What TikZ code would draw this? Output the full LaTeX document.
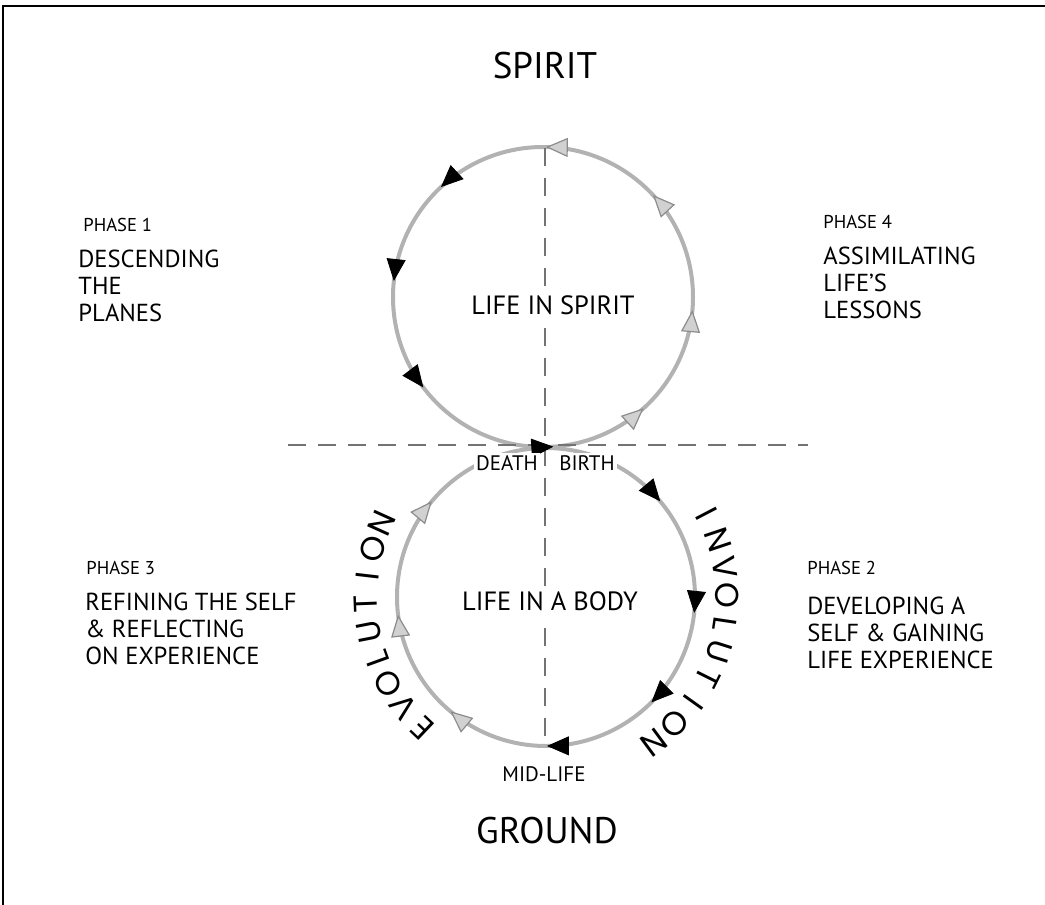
\documentclass[tikz,border=0pt]{standalone}
\usepackage{fontspec}
\setmainfont{PT Sans}
\newfontfamily\arcfont{Poppins}
\usetikzlibrary{arrows.meta,decorations.markings}

\tikzset{
    blacktip/.tip={Triangle[length=11pt,width=9.5pt,color=black,fill=black]},
    graytip/.tip={Triangle[length=11pt,width=9.5pt,line width=0.6pt,color=black!45,fill=black!18]}
}

\begin{document}
\begin{tikzpicture}[
        x=0.5pt, y=0.5pt,
        % Kreislinie
        ring/.style={draw=black!30, line width=2pt},
        % Gestrichelte Achsen
        axis/.style={draw=black!55, line width=1pt, dash pattern=on 9pt off 6pt},
        % Oben / unten
        pole/.style={font=\fontsize{18.5}{22}\selectfont, anchor=base},
        % Text im Kreis
        inside/.style={font=\fontsize{13.2}{16}\selectfont, fill=white, inner sep=2.5pt},
        % Punkte am Kreis
        point/.style={font=\fontsize{10.5}{12}\selectfont, fill=white, inner sep=1pt},
        % Phasen
        phasehead/.style={font=\fontsize{9.3}{11}\selectfont, anchor=base west, inner sep=0pt},
        phasebody/.style={font=\fontsize{12.3}{13.3}\selectfont, align=left, anchor=north west, inner sep=0pt},
        % Buchstaben am Bogen
        arcletter/.style={font=\arcfont\fontsize{16.5}{18}\selectfont, inner sep=0pt}
    ]
        \useasboundingbox (0,0) rectangle (1045,-905);

        % Rahmen
        \draw[line width=1pt] (3,-905) -- (3,-6) -- (1045,-6);

        % Mittelpunkte
        \coordinate (up) at (543,-297);
        \coordinate (lo) at (546,-597);

        % Kreise
        \draw[ring] (up) circle[radius=150];
        \draw[ring] (lo) circle[radius=149];

        % Achsen
        \coordinate (vtop) at (545,-148);
        \coordinate (vbot) at (545,-746);
        \coordinate (hleft) at (288,-445);
        \coordinate (hright) at (808,-445);
        \draw[axis] (vtop) -- (vbot);
        \draw[axis] (hleft) -- (hright);

        % Pfeile oben
        \path[decoration={markings,
                mark=at position 0.119 with {\arrow{graytip}},
                mark=at position 0.247 with {\arrow{graytip}},
                mark=at position 0.369 with {\arrow{blacktip}},
                mark=at position 0.483 with {\arrow{blacktip}},
                mark=at position 0.603 with {\arrow{blacktip}},
                mark=at position 0.761 with {\arrow{blacktip}},
                mark=at position 0.867 with {\arrow{graytip}},
                mark=at position 0.986 with {\arrow{graytip}}},
            decorate] (up) ++(0:150) arc[start angle=0, end angle=360, radius=150];

        % Pfeile unten
        \path[decoration={markings,
                mark=at position 0.139 with {\arrow{blacktip}},
                mark=at position 0.267 with {\arrow{blacktip}},
                mark=at position 0.375 with {\arrow{blacktip}},
                mark=at position 0.499 with {\arrow{blacktip}},
                mark=at position 0.611 with {\arrow{graytip}},
                mark=at position 0.731 with {\arrow{graytip}},
                mark=at position 0.861 with {\arrow{graytip}}},
            decorate] (lo) ++(90:149) arc[start angle=90, end angle=-270, radius=149];

        % Beschriftung
        \node[pole] (spirit) at (545,-78) {SPIRIT};
        \node[pole] (ground) at (547,-843) {GROUND};
        \node[inside] (lifespirit) at (553,-305) {LIFE IN SPIRIT};
        \node[inside] (lifebody) at (550,-601) {LIFE IN A BODY};
        \node[point] (death) at (507,-463) {DEATH};
        \node[point] (birth) at (587,-463) {BIRTH};
        \node[point, fill=none] (midlife) at (544,-774) {MID-LIFE};

        % Phasen
        \node[phasehead] (p1) at (83,-231) {PHASE 1};
        \node[phasebody] (p1text) at (78,-250) {DESCENDING\\THE\\PLANES};
        \node[phasehead] (p4) at (823,-228) {PHASE 4};
        \node[phasebody] (p4text) at (823,-247) {ASSIMILATING\\LIFE’S\\LESSONS};
        \node[phasehead] (p3) at (86,-574) {PHASE 3};
        \node[phasebody] (p3text) at (85,-593) {REFINING THE SELF\\\& REFLECTING\\ON EXPERIENCE};
        \node[phasehead] (p2) at (807,-574) {PHASE 2};
        \node[phasebody] (p2text) at (807,-597) {DEVELOPING A\\SELF \& GAINING\\LIFE EXPERIENCE};

        % Bogenschrift
        \foreach \ch [count=\i from 0] in {E,V,O,L,U,T,I,O,N}
            \path (lo) ++({226.5-8.86*\i}:180)
                node[arcletter, rotate={136.5-8.86*\i}] (evo\i) {\ch};
        \foreach \ch [count=\i from 0] in {I,N,V,O,L,U,T,I,O,N}
            \path (lo) ++({27.5-9*\i}:181)
                node[arcletter, rotate={-62.5-9*\i}] (invo\i) {\ch};

    \end{tikzpicture}
\end{document}
